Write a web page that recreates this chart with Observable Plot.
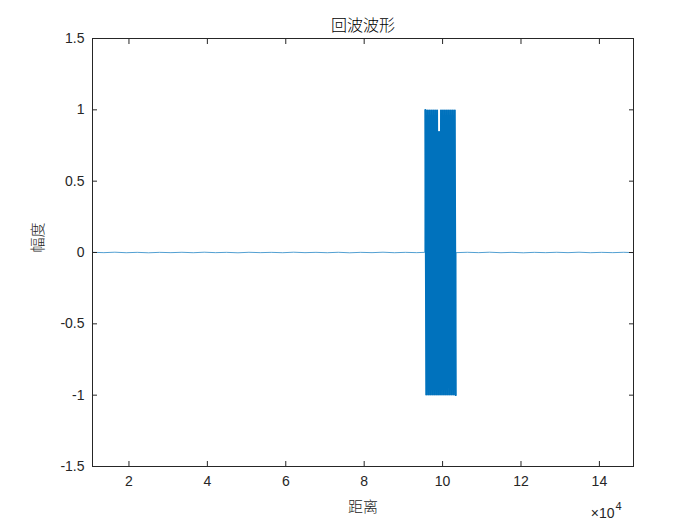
<!DOCTYPE html>
<html><head><meta charset="utf-8">
<script src="https://cdn.jsdelivr.net/npm/d3@7"></script>
<script src="https://cdn.jsdelivr.net/npm/@observablehq/plot@0.6"></script>
<style>body{margin:0;background:#fff}</style>
</head><body><div id="chart"></div>
<script>
const title = "回波波形";
const xLabel = "距离";
const yLabel = "幅度";
const xExponent = "4";
const xTicks = [20000, 40000, 60000, 80000, 100000, 120000, 140000];
const xTickLabels = ["2", "4", "6", "8", "10", "12", "14"];
const yTicks = [-1.5, -1, -0.5, 0, 0.5, 1, 1.5];
const yTickLabels = ["-1.5", "-1", "-0.5", "0", "0.5", "1", "1.5"];
const xDomain = [10700, 148700];
const yDomain = [-1.5, 1.5];

// low-level background noise (read as ~±0.002)
const noiseX = [10700, 13600, 16400, 19300, 22100, 25000, 27800, 30700, 33500, 36400, 39200, 42100, 44900, 47800, 50600, 53500, 56300, 59200, 62000, 64900, 67700, 70600, 73400, 76300, 79100, 82000, 84800, 87700, 90500, 93400, 95450, 103450, 106300, 109200, 112000, 114900, 117700, 120600, 123400, 126300, 129100, 132000, 134800, 137700, 140500, 143400, 146200, 148700];
const noiseY = [0.0015, -0.001, 0.002, -0.0015, 0.001, -0.002, 0.001, -0.001, 0.0015, -0.0015, 0.002, -0.001, 0.001, -0.002, 0.0015, -0.001, 0.001, -0.0015, 0.002, -0.001, 0.001, -0.0015, 0.0015, -0.002, 0.001, -0.001, 0.002, -0.0015, 0.001, -0.001, 0.001, -0.001, 0.0015, -0.001, 0.002, -0.0015, 0.001, -0.002, 0.001, -0.001, 0.0015, -0.001, 0.002, -0.0015, 0.001, -0.001, 0.0015, -0.001];

// echo pulse (dense oscillation between ±1)
const pulseX = [95600, 95850, 96100, 96350, 96600, 96850, 97100, 97350, 97600, 97850, 98100, 98350, 98600, 98850, 99100, 99350, 99600, 99850, 100100, 100350, 100600, 100850, 101100, 101350, 101600, 101850, 102100, 102350, 102600, 102850, 103100, 103350];
const pulseY = [1, -1, 1, -1, 1, -1, 1, -1, 1, -1, 1, -1, 1, -1, 0.85, -1, 1, -1, 1, -1, 1, -1, 1, -1, 1, -1, 1, -1, 1, -1, 1, -1];

const noise = noiseX.map((x, i) => ({x, y: noiseY[i]}));
const pulse = pulseX.map((x, i) => ({x, y: pulseY[i]}));
const series = noise.concat(pulse).sort((a, b) => a.x - b.x);

const ink = "#262626";
const blue = "#0072BD";
const cjk = "'Noto Sans CJK SC', sans-serif";

const chart = Plot.plot({
  width: 700,
  height: 525,
  marginTop: 38,
  marginBottom: 59,
  marginLeft: 92,
  marginRight: 67,
  style: {fontFamily: "'Liberation Sans', Arial, sans-serif", fontSize: "14px", color: ink, background: "#fff"},
  x: {domain: xDomain},
  y: {domain: yDomain},
  marks: [
    Plot.line(series, {x: "x", y: "y", stroke: blue, strokeWidth: 0.8, strokeOpacity: 0.85}),
    Plot.line(pulse, {x: "x", y: "y", stroke: blue, strokeWidth: 1.9, strokeLinejoin: "miter", strokeMiterlimit: 1}),
    Plot.frame({stroke: ink}),
    Plot.axisX({anchor: "bottom", ticks: xTicks, tickSize: 0, tickPadding: 10, tickFormat: d => xTickLabels[xTicks.indexOf(d)], label: null, fontSize: 14, fill: ink}),
    Plot.axisX({anchor: "bottom", ticks: xTicks, tickSize: 5, dy: -5, fill: "none", label: null, stroke: ink}),
    Plot.axisX({anchor: "top", ticks: xTicks, tickSize: 5, dy: 5, fill: "none", label: null, stroke: ink}),
    Plot.axisY({anchor: "left", ticks: yTicks, tickSize: 0, tickPadding: 8, tickFormat: d => yTickLabels[yTicks.indexOf(d)], label: null, fontSize: 14, fill: ink}),
    Plot.axisY({anchor: "left", ticks: yTicks, tickSize: 5, dx: 5, fill: "none", label: null, stroke: ink}),
    Plot.axisY({anchor: "right", ticks: yTicks, tickSize: 5, dx: -5, fill: "none", label: null, stroke: ink}),
    Plot.text([title], {frameAnchor: "top", dy: -13, lineAnchor: "middle", fontSize: 16, fontWeight: 300, fontFamily: cjk, fill: "#000"}),
    Plot.text([xLabel], {frameAnchor: "bottom", dy: 41, lineAnchor: "middle", fontSize: 15, fontWeight: 300, fontFamily: cjk, fill: ink}),
    Plot.text([yLabel], {frameAnchor: "left", dx: -54, rotate: -90, fontSize: 15, fontWeight: 300, fontFamily: cjk, fill: ink}),
    Plot.text(["×10"], {frameAnchor: "bottom-right", dx: -19, dy: 47, lineAnchor: "middle", fontSize: 14, fill: ink}),
    Plot.text([xExponent], {frameAnchor: "bottom-right", dx: -12, dy: 40, lineAnchor: "middle", fontSize: 11, fill: ink})
  ]
});
document.getElementById("chart").appendChild(chart);
</script>
</body></html>
